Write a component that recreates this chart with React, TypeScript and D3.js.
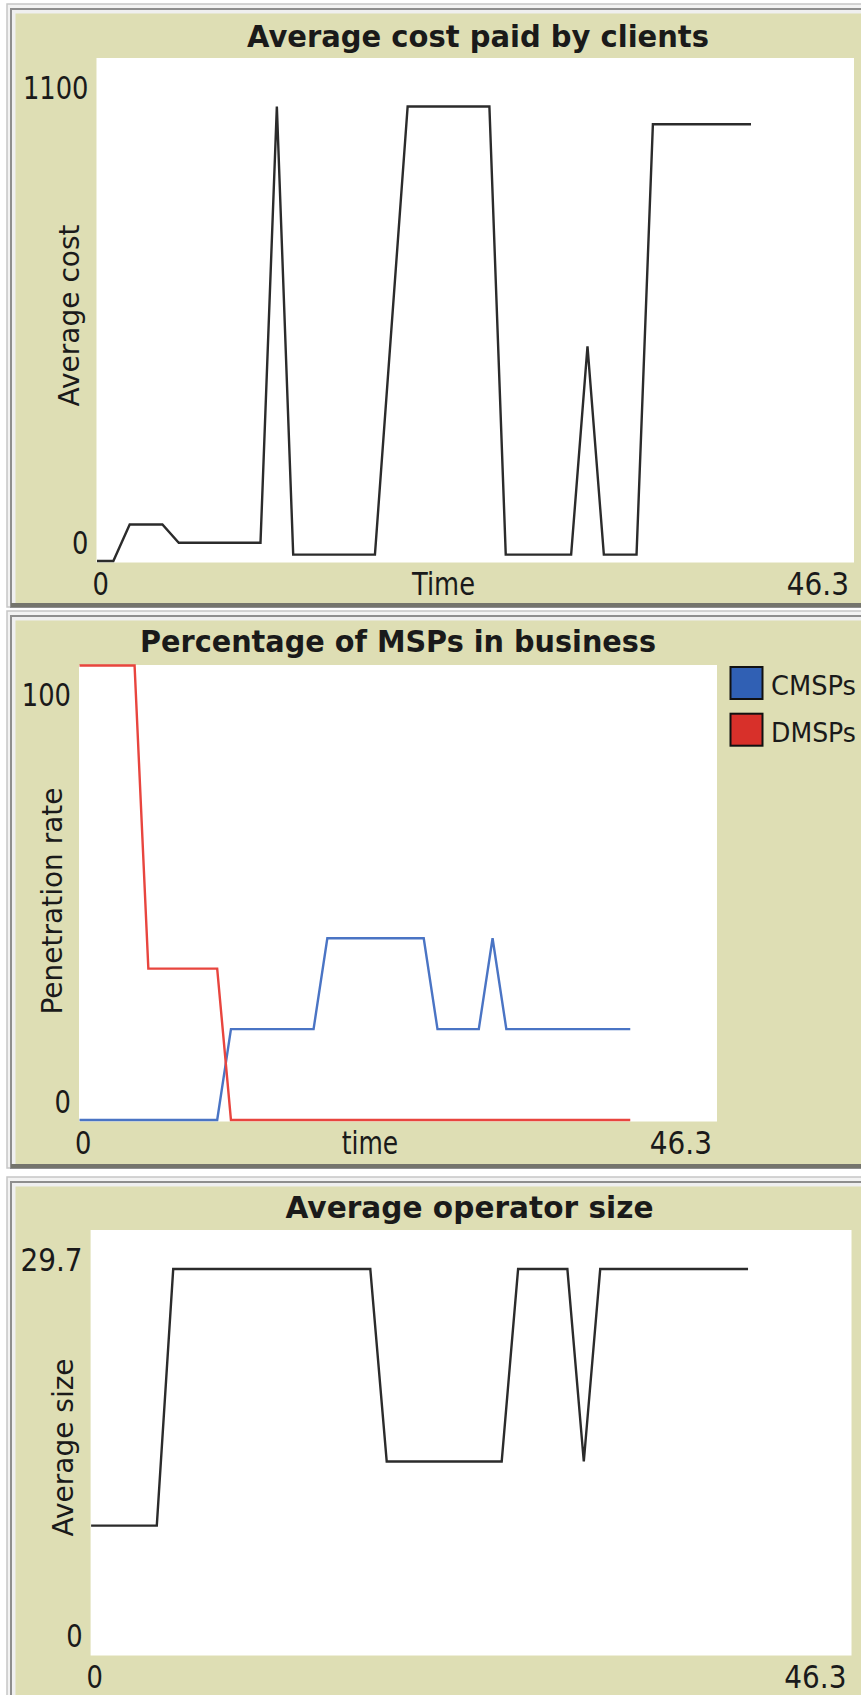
import React from 'react';
import * as d3 from 'd3';

// plotted data (time, value vertices)
const costTime = [0, 1, 2, 4, 5, 10, 11, 12, 17, 19, 24, 25, 29, 30, 31, 33, 34, 40];
const costValue = [0, 0, 80, 80, 40, 40, 995, 14, 14, 995, 995, 14, 14, 470, 14, 14, 956, 956];

const cmspTime = [0, 10, 11, 17, 18, 25, 26, 29, 30, 31, 40];
const cmspValue = [0, 0, 20, 20, 40, 40, 20, 20, 40, 20, 20];
const dmspTime = [0, 4, 5, 10, 11, 40];
const dmspValue = [100, 100, 33.3, 33.3, 0, 0];

const sizeTime = [0, 4, 5, 17, 18, 25, 26, 29, 30, 31, 40];
const sizeValue = [9, 9, 27, 27, 13.5, 13.5, 27, 27, 13.5, 27, 27];

const xMax = 46.3;
const xTickLabels = ['0', '46.3'];
const legendNames = ['CMSPs', 'DMSPs'];

const OLIVE = '#dedeb4';
const FONT = 'DejaVu Sans';

const zip = (t: number[], v: number[]) => t.map((d, i) => [d, v[i]] as [number, number]);

// narrow look of the screenshot text: fixed widths per char
const labelWidth = (s: string) =>
  s.split('').reduce((a, c) => a + (c === '.' ? 13 : 16.4), 0);

function Label({ x, y, text, anchor = 'start', size = 32, bold = false, width }: any) {
  return (
    <text
      x={x}
      y={y}
      textAnchor={anchor}
      fontSize={size}
      fontWeight={bold ? 'bold' : 'normal'}
      fontFamily={FONT}
      fill="#1a1a1a"
      textLength={width}
      lengthAdjust="spacingAndGlyphs"
    >
      {text}
    </text>
  );
}

function Panel({ frame, plot, title, yTitle, xTitle, yMax, yLabels, series, legend }: any) {
  const x = d3.scaleLinear().domain([0, xMax]).range([plot.left + 0.5, plot.right]);
  const y = d3.scaleLinear().domain([0, yMax]).range([plot.bottom - 1.5, plot.top + 0.5]);
  const line = d3
    .line<[number, number]>()
    .x((d) => x(d[0]))
    .y((d) => y(d[1]));

  return (
    <g>
      {/* widget frame */}
      <rect x={7} y={frame.top} width={880} height={frame.bottom - frame.top} fill="#f3f3f3" stroke="#c6c6c6" strokeWidth={1.5} />
      <rect x={11} y={frame.top + 5} width={880} height={frame.bottom - frame.top - 5} fill="#efefef" stroke="#8e8e8e" strokeWidth={2} />
      <rect x={15.5} y={frame.top + 9.5} width={880} height={frame.bottom - frame.top - 13.5} fill={OLIVE} />
      <rect x={11} y={frame.bottom - 4} width={880} height={4} fill="#74746c" />

      <Label x={title.x} y={title.y} text={title.text} anchor="middle" size={30} bold width={title.width} />

      <rect x={plot.left} y={plot.top} width={plot.right - plot.left} height={plot.bottom - plot.top} fill="#fff" />

      {/* y labels */}
      <Label x={plot.left - 8} y={y(yMax) + 40} text={yLabels[1]} anchor="end" width={labelWidth(yLabels[1])} />
      <Label x={plot.left - 8} y={y(0) - 7} text={yLabels[0]} anchor="end" width={labelWidth(yLabels[0])} />
      <text
        transform={`translate(${yTitle.x},${yTitle.y}) rotate(-90)`}
        textAnchor="middle"
        fontSize={28}
        fontFamily={FONT}
        fill="#1a1a1a"
      >
        {yTitle.text}
      </text>

      {/* x labels */}
      <Label x={x(0) - 4.5} y={y(0) + 34} text={xTickLabels[0]} width={labelWidth(xTickLabels[0])} />
      <Label x={x(xMax) - 5} y={y(0) + 34} text={xTickLabels[1]} anchor="end" width={labelWidth(xTickLabels[1])} />
      {xTitle && (
        <Label x={xTitle.x} y={y(0) + 34} text={xTitle.text} anchor="middle" width={xTitle.width} />
      )}

      {series.map((s: any, i: number) => (
        <path key={i} d={line(s.points) || ''} fill="none" stroke={s.color} strokeWidth={2.4} strokeLinejoin="miter" />
      ))}

      {legend &&
        series.map((s: any, i: number) => (
          <g key={'lg' + i}>
            <rect x={plot.right + 13.5} y={plot.top + 2 + i * 46.7} width={32} height={32} fill={s.swatch} stroke="#111" strokeWidth={2} />
            <Label x={plot.right + 54} y={plot.top + 30 + i * 46.7} text={legendNames[i]} size={27} width={85} />
          </g>
        ))}
    </g>
  );
}

export default function App() {
  const W = 861;
  const H = 1695;
  return (
    <svg width={W} height={H} style={{ position: 'absolute', left: 0, top: 0, background: '#fff' }}>
      <Panel
        frame={{ top: 4, bottom: 607 }}
        plot={{ left: 96.5, right: 854, top: 58, bottom: 562.5 }}
        title={{ text: 'Average cost paid by clients', x: 478, y: 46.7, width: 462 }}
        yTitle={{ text: 'Average cost', x: 78.5, y: 315.5 }}
        xTitle={{ text: 'Time', x: 443.5, width: 63 }}
        yMax={1100}
        yLabels={['0', '1100']}
        series={[{ points: zip(costTime, costValue), color: '#2b2b2b' }]}
      />
      <Panel
        frame={{ top: 611, bottom: 1168 }}
        plot={{ left: 79, right: 717, top: 665, bottom: 1121.5 }}
        title={{ text: 'Percentage of MSPs in business', x: 398, y: 651.7, width: 516 }}
        yTitle={{ text: 'Penetration rate', x: 61.5, y: 901 }}
        xTitle={{ text: 'time', x: 370, width: 56.5 }}
        yMax={100}
        yLabels={['0', '100']}
        legend
        series={[
          { points: zip(cmspTime, cmspValue), color: '#4a74c4', swatch: '#3060b4' },
          { points: zip(dmspTime, dmspValue), color: '#e8453e', swatch: '#d8302a' },
        ]}
      />
      <Panel
        frame={{ top: 1177, bottom: 1760 }}
        plot={{ left: 90.6, right: 851.5, top: 1230, bottom: 1655.5 }}
        title={{ text: 'Average operator size', x: 469.5, y: 1218.3, width: 368 }}
        yTitle={{ text: 'Average size', x: 72.5, y: 1447.5 }}
        yMax={29.7}
        yLabels={['0', '29.7']}
        series={[{ points: zip(sizeTime, sizeValue), color: '#2b2b2b' }]}
      />
    </svg>
  );
}
